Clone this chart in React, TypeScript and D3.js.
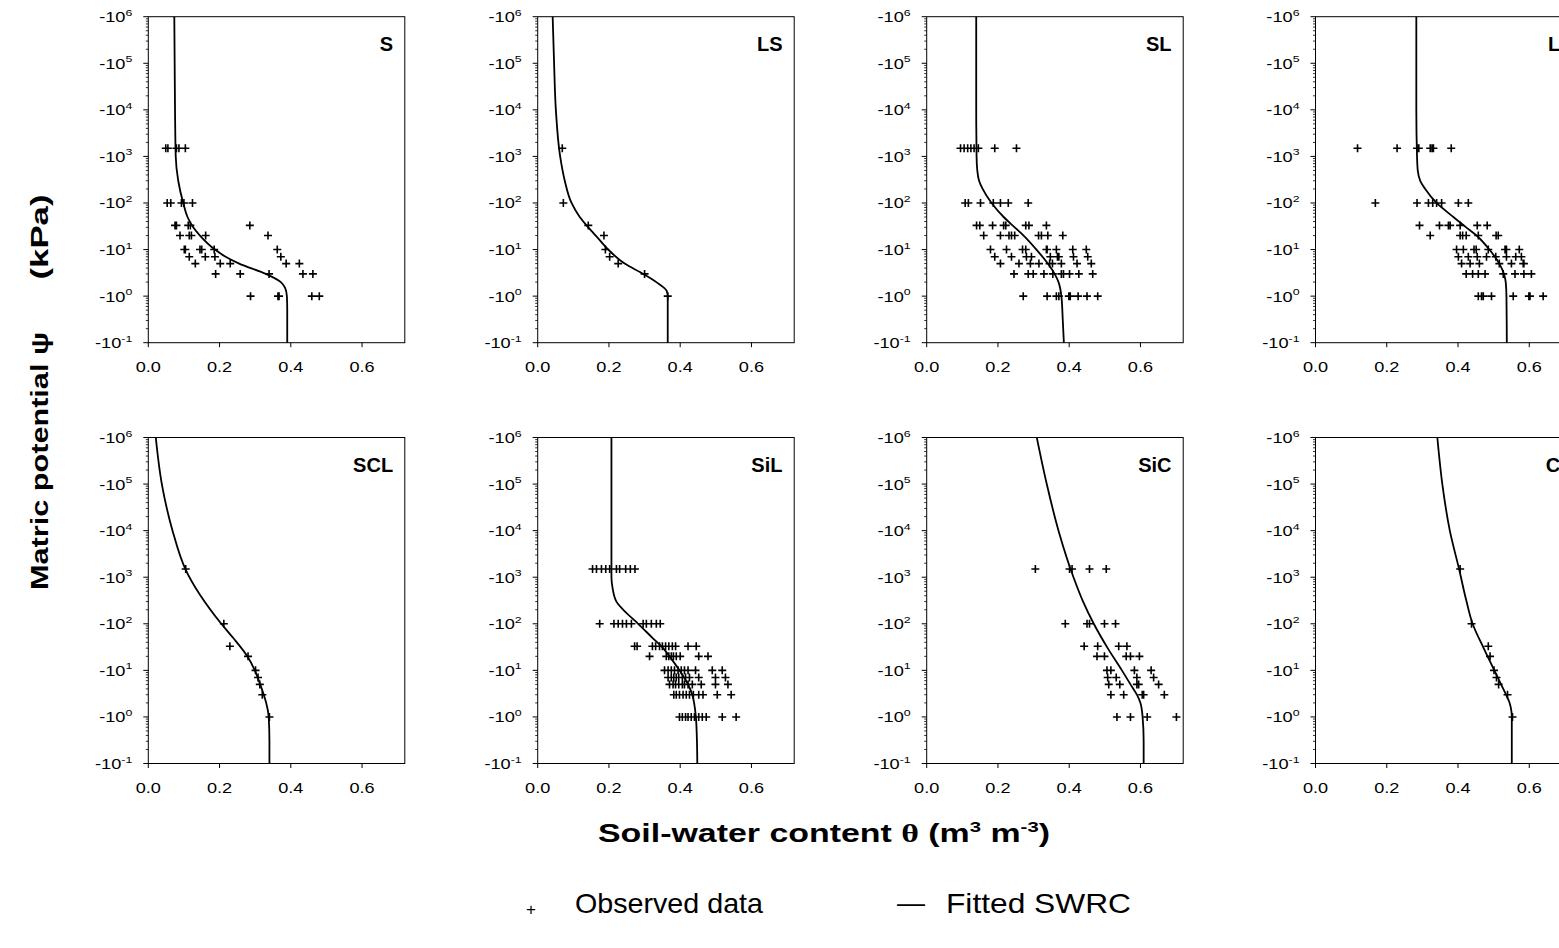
import React from 'react';
import * as d3 from 'd3';

// Soil textures, one panel each (row-major)
const TEXTURES = ['S', 'LS', 'SL', 'L', 'SCL', 'SiL', 'SiC', 'C'];

// Matric potential magnitudes (kPa) at which water content was measured
const PSI_LEVELS = [1500, 100, 33, 20, 10, 7, 5, 3, 1];

// Observed water content (m3 m-3), one row per PSI_LEVELS entry
const S_OBS = [
  [0.049, 0.055, 0.079, 0.086, 0.104],
  [0.053, 0.063, 0.093, 0.100, 0.124],
  [0.075, 0.079, 0.112, 0.118, 0.285],
  [0.089, 0.115, 0.121, 0.161, 0.336],
  [0.101, 0.104, 0.145, 0.150, 0.185, 0.362],
  [0.115, 0.160, 0.187, 0.372],
  [0.132, 0.202, 0.230, 0.387, 0.424],
  [0.189, 0.258, 0.339, 0.434, 0.462],
  [0.287, 0.364, 0.367, 0.459, 0.480],
];
const LS_OBS = [[0.069], [0.072], [0.142], [0.186], [0.190], [0.202], [0.226], [0.300], [0.365]];
const SL_OBS = [
  [0.095, 0.105, 0.115, 0.124, 0.133, 0.145, 0.191, 0.252],
  [0.108, 0.117, 0.151, 0.187, 0.207, 0.229, 0.285],
  [0.140, 0.149, 0.185, 0.216, 0.222, 0.278, 0.287, 0.336],
  [0.160, 0.207, 0.231, 0.238, 0.247, 0.314, 0.322, 0.340, 0.382],
  [0.179, 0.224, 0.269, 0.278, 0.336, 0.338, 0.364, 0.410, 0.448],
  [0.191, 0.238, 0.280, 0.294, 0.347, 0.367, 0.371, 0.412, 0.452],
  [0.207, 0.259, 0.291, 0.315, 0.345, 0.353, 0.378, 0.422, 0.462],
  [0.245, 0.285, 0.299, 0.329, 0.354, 0.378, 0.384, 0.401, 0.427, 0.466],
  [0.271, 0.338, 0.364, 0.371, 0.399, 0.403, 0.425, 0.450, 0.480],
];
const L_OBS = [
  [0.118, 0.229, 0.285, 0.290, 0.322, 0.327, 0.331, 0.381],
  [0.168, 0.285, 0.317, 0.329, 0.340, 0.354, 0.401, 0.429],
  [0.292, 0.348, 0.373, 0.378, 0.406, 0.454, 0.482],
  [0.322, 0.406, 0.413, 0.423, 0.457, 0.507, 0.513],
  [0.396, 0.415, 0.445, 0.451, 0.485, 0.532, 0.536, 0.572],
  [0.401, 0.429, 0.454, 0.480, 0.506, 0.536, 0.562, 0.578],
  [0.410, 0.434, 0.460, 0.516, 0.550, 0.583, 0.585],
  [0.423, 0.441, 0.457, 0.476, 0.527, 0.560, 0.585, 0.606],
  [0.457, 0.466, 0.471, 0.494, 0.555, 0.599, 0.602, 0.639],
];
const SCL_OBS = [[0.105], [0.212], [0.229], [0.280], [0.301], [0.308], [0.313], [0.320], [0.340]];
const SIL_OBS = [
  [0.154, 0.165, 0.179, 0.191, 0.202, 0.221, 0.230, 0.247, 0.260, 0.273],
  [0.174, 0.214, 0.226, 0.238, 0.249, 0.263, 0.296, 0.305, 0.319, 0.333, 0.344],
  [0.272, 0.279, 0.322, 0.331, 0.342, 0.350, 0.359, 0.368, 0.378, 0.387, 0.422, 0.445],
  [0.314, 0.361, 0.368, 0.375, 0.381, 0.389, 0.400, 0.452, 0.478],
  [0.356, 0.366, 0.375, 0.384, 0.394, 0.403, 0.412, 0.422, 0.443, 0.490, 0.518],
  [0.366, 0.375, 0.382, 0.389, 0.396, 0.406, 0.415, 0.426, 0.452, 0.499, 0.527],
  [0.370, 0.380, 0.387, 0.396, 0.406, 0.412, 0.422, 0.434, 0.459, 0.499, 0.534],
  [0.382, 0.389, 0.398, 0.408, 0.417, 0.426, 0.437, 0.452, 0.464, 0.504, 0.543],
  [0.398, 0.406, 0.415, 0.422, 0.431, 0.440, 0.452, 0.462, 0.473, 0.518, 0.557],
];
const SIC_OBS = [
  [0.305, 0.401, 0.408, 0.457, 0.504],
  [0.389, 0.450, 0.457, 0.499, 0.530],
  [0.442, 0.480, 0.539, 0.562],
  [0.478, 0.499, 0.560, 0.572, 0.597],
  [0.506, 0.517, 0.583, 0.630],
  [0.508, 0.532, 0.590, 0.637],
  [0.511, 0.542, 0.590, 0.595, 0.651],
  [0.517, 0.553, 0.605, 0.609, 0.667],
  [0.534, 0.572, 0.619, 0.701],
];
const C_OBS = [[0.406], [0.438], [0.485], [0.490], [0.501], [0.508], [0.514], [0.539], [0.553]];

// Fitted retention curves as [|psi| kPa, theta] pairs, from dry to wet
const S_FIT: [number, number][] = [
  [1e6, 0.073], [1e5, 0.074], [1e4, 0.075], [1e3, 0.077], [300, 0.084], [100, 0.098],
  [50, 0.110], [30, 0.126], [20, 0.145], [10, 0.187], [7, 0.217], [5, 0.255], [3, 0.330],
  [2, 0.372], [1.5, 0.384], [1, 0.389], [0.5, 0.390], [0.1, 0.390],
];
const LS_FIT: [number, number][] = [
  [1e6, 0.042], [1e5, 0.046], [1e4, 0.051], [1e3, 0.063], [300, 0.076], [100, 0.095],
  [50, 0.118], [30, 0.142], [20, 0.163], [10, 0.198], [5, 0.244], [3, 0.296], [2, 0.333],
  [1.3, 0.362], [1, 0.365], [0.1, 0.365],
];
const SL_FIT: [number, number][] = [
  [1e6, 0.139], [1e4, 0.139], [1e3, 0.140], [500, 0.142], [300, 0.147], [200, 0.157],
  [100, 0.182], [50, 0.216], [30, 0.247], [20, 0.272], [10, 0.308], [5, 0.340], [3, 0.359],
  [2, 0.370], [1, 0.378], [0.3, 0.382], [0.1, 0.385],
];
const L_FIT: [number, number][] = [
  [1e6, 0.283], [1e4, 0.283], [1e3, 0.285], [500, 0.287], [300, 0.294], [200, 0.308],
  [100, 0.340], [50, 0.387], [30, 0.423], [20, 0.452], [10, 0.488], [5, 0.516], [3, 0.529],
  [2, 0.534], [1, 0.536], [0.1, 0.537],
];
const SCL_FIT: [number, number][] = [
  [1e6, 0.021], [1e5, 0.038], [1e4, 0.068], [1500, 0.104], [100, 0.205], [50, 0.238],
  [20, 0.278], [10, 0.299], [5, 0.314], [3, 0.324], [2, 0.331], [1, 0.338], [0.3, 0.340],
  [0.1, 0.340],
];
const SIL_FIT: [number, number][] = [
  [1e6, 0.207], [1e3, 0.207], [600, 0.210], [300, 0.221], [200, 0.240], [100, 0.282],
  [50, 0.322], [30, 0.352], [20, 0.370], [10, 0.398], [5, 0.422], [3, 0.434], [2, 0.439],
  [1, 0.444], [0.3, 0.447], [0.1, 0.448],
];
const SIC_FIT: [number, number][] = [
  [1e6, 0.309], [1e5, 0.337], [1e4, 0.370], [1e3, 0.412], [300, 0.439], [100, 0.469],
  [30, 0.508], [10, 0.548], [5, 0.572], [3, 0.590], [2, 0.600], [1, 0.606], [0.3, 0.609],
  [0.1, 0.609],
];
const C_FIT: [number, number][] = [
  [1e6, 0.342], [1e5, 0.356], [1e4, 0.377], [1500, 0.403], [300, 0.424], [100, 0.441],
  [30, 0.472], [10, 0.502], [5, 0.521], [3, 0.535], [2, 0.545], [1.3, 0.550], [1, 0.551],
  [0.1, 0.551],
];

const OBSERVED = [S_OBS, LS_OBS, SL_OBS, L_OBS, SCL_OBS, SIL_OBS, SIC_OBS, C_OBS];
const FITTED = [S_FIT, LS_FIT, SL_FIT, L_FIT, SCL_FIT, SIL_FIT, SIC_FIT, C_FIT];

// Axis settings
const THETA_DOMAIN: [number, number] = [0, 0.72];
const THETA_TICKS = [0, 0.2, 0.4, 0.6];
const PSI_DOMAIN: [number, number] = [0.1, 1e6];
const PSI_EXPONENTS = [-1, 0, 1, 2, 3, 4, 5, 6];

// Layout
const W = 1559;
const H = 948;
const COL_X = [148.3, 537.7, 926.7, 1315.5];
const ROW_Y = [16.7, 437.5];
const PW = 256.5;
const PH = 326;
const FONT = '"Liberation Sans", Arial, Helvetica, sans-serif';

const x = d3.scaleLinear().domain(THETA_DOMAIN).range([0, PW]);
const y = d3.scaleLog().domain(PSI_DOMAIN).range([PH, 0]);

const fitLine = d3
  .line<[number, number]>()
  .x((d) => x(d[1]))
  .y((d) => y(d[0]))
  .curve(d3.curveMonotoneY);

function crossPath(obs: number[][]): string {
  const arm = 4;
  let p = '';
  obs.forEach((row, i) => {
    const cy = y(PSI_LEVELS[i]);
    row.forEach((t) => {
      const cx = x(t);
      p += `M${cx - arm},${cy}h${arm * 2}M${cx},${cy - arm}v${arm * 2}`;
    });
  });
  return p;
}

function Panel({ idx }: { idx: number }) {
  const col = idx % 4;
  const row = Math.floor(idx / 4);
  const minor: number[] = [];
  PSI_EXPONENTS.slice(0, -1).forEach((e) => {
    for (let m = 2; m <= 9; m++) minor.push(m * Math.pow(10, e));
  });
  return (
    <g transform={`translate(${COL_X[col]},${ROW_Y[row]})`}>
      <rect x={0} y={0} width={PW} height={PH} fill="#fff" stroke="#000" strokeWidth={1} />
      {/* log-axis ticks */}
      {minor.map((v) => (
        <line key={`m${v}`} x1={-2.5} x2={0} y1={y(v)} y2={y(v)} stroke="#000" strokeWidth={0.8} />
      ))}
      {PSI_EXPONENTS.map((e) => {
        const yy = y(Math.pow(10, e));
        return (
          <g key={`M${e}`}>
            <line x1={-5} x2={0} y1={yy} y2={yy} stroke="#000" strokeWidth={1} />
            <text
              transform={`translate(-16,${yy + 5.5}) scale(1.3,1)`}
              textAnchor="end"
              fontFamily={FONT}
              fontSize={14}
              fill="#000"
            >
              -10
              <tspan dy={-6.5} fontSize={9.5}>
                {e}
              </tspan>
            </text>
          </g>
        );
      })}
      {THETA_TICKS.map((t) => (
        <g key={`t${t}`}>
          <line x1={x(t)} x2={x(t)} y1={PH} y2={PH + 4.5} stroke="#000" strokeWidth={1} />
          <text
            transform={`translate(${x(t)},${PH + 29.5}) scale(1.25,1)`}
            textAnchor="middle"
            fontFamily={FONT}
            fontSize={14.5}
            fill="#000"
          >
            {d3.format('.1f')(t)}
          </text>
        </g>
      ))}
      <path d={fitLine(FITTED[idx]) || ''} fill="none" stroke="#000" strokeWidth={1.8} />
      <path d={crossPath(OBSERVED[idx])} fill="none" stroke="#000" strokeWidth={1.6} />
      <text
        x={PW - 11.7}
        y={34}
        textAnchor="end"
        fontFamily={FONT}
        fontWeight="bold"
        fontSize={20}
        fill="#000"
      >
        {TEXTURES[idx]}
      </text>
    </g>
  );
}

export default function App() {
  return (
    <svg
      width={W}
      height={H}
      viewBox={`0 0 ${W} ${H}`}
      style={{ position: 'absolute', left: 0, top: 0, background: '#fff' }}
    >
      <rect width={W} height={H} fill="#fff" />
      {TEXTURES.map((_, i) => (
        <Panel key={i} idx={i} />
      ))}

      {/* y-axis title */}
      <g transform="translate(48,461) rotate(-90)">
        <text
          textAnchor="middle"
          fontFamily={FONT}
          fontWeight="bold"
          fontSize={24}
          textLength={258}
          lengthAdjust="spacingAndGlyphs"
          fill="#000"
        >
          Matric potential ψ
        </text>
      </g>
      <g transform="translate(48,237) rotate(-90)">
        <text
          textAnchor="middle"
          fontFamily={FONT}
          fontWeight="bold"
          fontSize={24}
          textLength={85}
          lengthAdjust="spacingAndGlyphs"
          fill="#000"
        >
          (kPa)
        </text>
      </g>

      {/* x-axis title */}
      <text
        x={824}
        y={842}
        textAnchor="middle"
        fontFamily={FONT}
        fontWeight="bold"
        fontSize={25}
        textLength={452}
        lengthAdjust="spacingAndGlyphs"
        fill="#000"
      >
        Soil-water content{' '}
        <tspan fontFamily='"Liberation Serif", "Times New Roman", serif'>θ</tspan> (m
        <tspan dy={-10} fontSize={15}>3</tspan>
        <tspan dy={10}> m</tspan>
        <tspan dy={-10} fontSize={15}>-3</tspan>
        <tspan dy={10}>)</tspan>
      </text>

      {/* legend */}
      <text x={531} y={915} textAnchor="middle" fontFamily={FONT} fontSize={17} fill="#000">
        +
      </text>
      <text
        x={575}
        y={913}
        fontFamily={FONT}
        fontSize={28}
        textLength={188}
        lengthAdjust="spacingAndGlyphs"
        fill="#000"
      >
        Observed data
      </text>
      <text x={897} y={912} fontFamily={FONT} fontSize={28} fill="#000">
        —
      </text>
      <text
        x={946}
        y={913}
        fontFamily={FONT}
        fontSize={28}
        textLength={185}
        lengthAdjust="spacingAndGlyphs"
        fill="#000"
      >
        Fitted SWRC
      </text>
    </svg>
  );
}
